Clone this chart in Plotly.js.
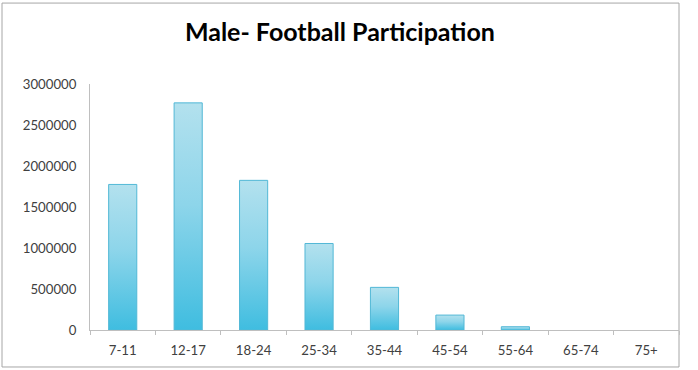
<!DOCTYPE html>
<html>
<head>
<meta charset="utf-8">
<script src="https://cdn.plot.ly/plotly-3.0.1.min.js"></script>
<style>
  html, body { margin: 0; padding: 0; background: #ffffff; }
  #chart { width: 698px; height: 370px; }
</style>
</head>
<body>
<div id="chart"></div>
<script>
// Male football participation by age group
const ageGroups = ['7-11', '12-17', '18-24', '25-34', '35-44', '45-54', '55-64', '65-74', '75+'];
const participants = [1775000, 2770000, 1825000, 1055000, 520000, 182000, 40000, 0, 0];
const yTicks = [0, 500000, 1000000, 1500000, 2000000, 2500000, 3000000];

const trace = {
  type: 'bar',
  x: ageGroups,
  y: participants,
  width: 0.43,
  marker: {
    color: '#7fd0e8',
    // empty groups get no outline so nothing shows on the axis
    line: { color: '#52b8d6', width: participants.map(v => (v > 0 ? 1 : 0)) }
  },
  hoverinfo: 'x+y'
};

const layout = {
  width: 698,
  height: 370,
  margin: { l: 90, r: 19, t: 84, b: 40 },
  paper_bgcolor: '#ffffff',
  plot_bgcolor: '#ffffff',
  showlegend: false,
  title: {
    text: '<b>Male- Football Participation</b>',
    font: { family: 'Lato, "Open Sans", sans-serif', size: 25, color: '#000000' },
    x: 0.487,
    xanchor: 'center',
    y: 0.913,
    yanchor: 'middle'
  },
  font: { family: 'Lato, "Open Sans", sans-serif', size: 13.2, color: '#404040' },
  xaxis: {
    type: 'category',
    showline: true,
    linecolor: '#bfbfbf',
    linewidth: 1,
    ticks: 'outside',
    tickson: 'boundaries',
    ticklen: 4,
    tickcolor: '#bfbfbf',
    ticklabelstandoff: 8,
    showgrid: false,
    zeroline: false,
    fixedrange: true
  },
  yaxis: {
    range: [0, 3000000],
    tickvals: yTicks,
    ticktext: yTicks.map(v => String(v)),
    showline: true,
    linecolor: '#bfbfbf',
    linewidth: 1,
    ticks: '',
    ticklabelstandoff: 10,
    showgrid: false,
    zeroline: false,
    fixedrange: true
  },
  shapes: [{
    type: 'rect',
    xref: 'paper', yref: 'paper',
    x0: -0.1494, x1: 1.0,
    y0: -0.1504, y1: 1.329,
    line: { color: '#a6a6a6', width: 1 },
    fillcolor: 'rgba(0,0,0,0)',
    layer: 'below'
  }]
};

Plotly.newPlot('chart', [trace], layout, { displayModeBar: false, staticPlot: true }).then(gd => {
  // vertical shading for each bar: pale at the top, deeper cyan at the base
  const svg = gd.querySelector('svg.main-svg');
  const ns = 'http://www.w3.org/2000/svg';
  let defs = svg.querySelector('defs');
  if (!defs) { defs = document.createElementNS(ns, 'defs'); svg.insertBefore(defs, svg.firstChild); }
  const grad = document.createElementNS(ns, 'linearGradient');
  grad.setAttribute('id', 'barShade');
  grad.setAttribute('x1', '0'); grad.setAttribute('y1', '0');
  grad.setAttribute('x2', '0'); grad.setAttribute('y2', '1');
  [['0', '#b3e1ee'], ['0.45', '#8dd5ea'], ['1', '#3fbde0']].forEach(([o, c]) => {
    const s = document.createElementNS(ns, 'stop');
    s.setAttribute('offset', o); s.setAttribute('stop-color', c);
    grad.appendChild(s);
  });
  defs.appendChild(grad);
  gd.querySelectorAll('.barlayer .point path').forEach(p => {
    p.style.fill = 'url(#barShade)';
    p.style.fillOpacity = 1;
  });
});
</script>
</body>
</html>
